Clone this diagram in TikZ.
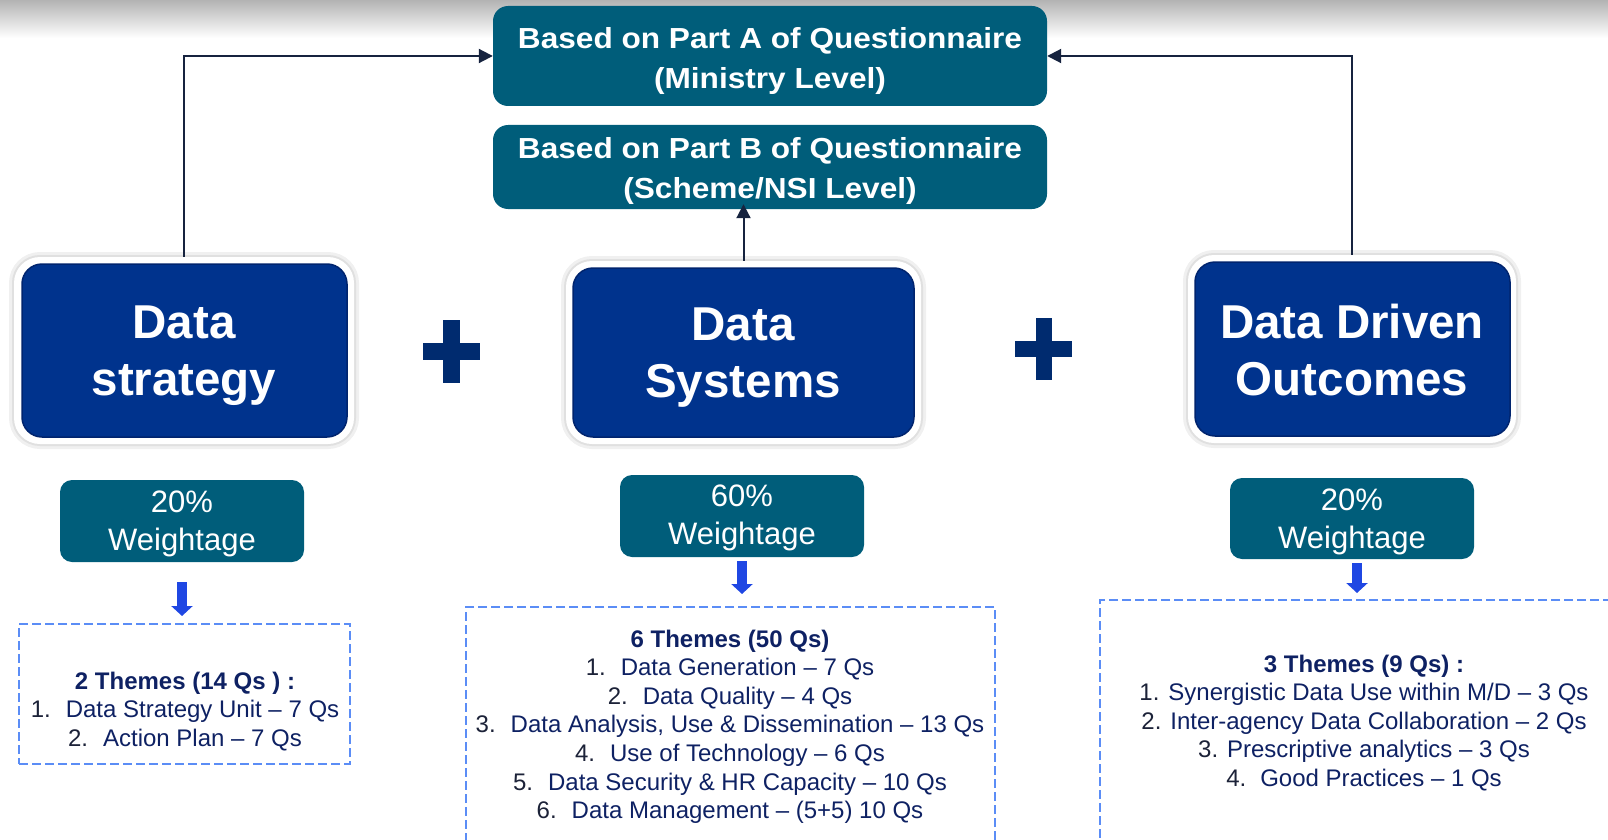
\documentclass[tikz,border=0pt]{standalone}
\usepackage{fontspec}
\setmainfont{Liberation Sans}
\newfontfamily\widefont[FakeStretch=1.09]{Liberation Sans}
\usetikzlibrary{arrows.meta}
\definecolor{tealbox}{HTML}{005D7A}
\definecolor{bigblue}{HTML}{00338D}
\definecolor{bigedge}{HTML}{00246E}
\definecolor{plusc}{HTML}{002B6F}
\definecolor{connc}{HTML}{16233F}
\definecolor{arrowblue}{HTML}{1F47E3}
\definecolor{dashc}{HTML}{5B8DF6}
\definecolor{txtc}{HTML}{0E2163}
\definecolor{numc}{HTML}{1C2238}
\newcommand\itemnum[2][35pt]{\makebox[#1][l]{\textcolor{numc}{#2.}}}
\begin{document}
\begin{tikzpicture}[x=1pt, y=-1pt,
  frame/.style={fill=white, rounded corners=26pt, inner sep=0pt,
    preaction={draw=black!6, line width=10pt},
    preaction={draw=black!12, line width=4pt}},
  bigbox/.style={fill=bigblue, draw=bigedge, line width=1.5pt, rounded corners=20pt, inner sep=0pt},
  bigtxt/.style={text=white, font=\bfseries\fontsize{47.5}{56.5}\selectfont, align=center, anchor=north, inner sep=0pt},
  qbox/.style={fill=tealbox, rounded corners=15pt, inner sep=0pt},
  qtxt/.style={text=white, font=\widefont\bfseries\fontsize{29}{40}\selectfont, align=center, anchor=north, inner sep=0pt},
  wbox/.style={fill=tealbox, rounded corners=12pt, inner sep=0pt},
  wtxt/.style={text=white, font=\fontsize{31}{38}\selectfont, align=center, anchor=north, inner sep=0pt},
  tbox/.style={draw=dashc, line width=2pt, dash pattern=on 9pt off 4pt, inner sep=0pt},
  ttxt/.style={text=txtc, font=\fontsize{24}{28.6}\selectfont, align=center, anchor=north, inner sep=0pt},
  conn/.style={draw=connc, line width=2pt, -{Triangle[width=14pt,length=14pt]}},
  barrow/.style={draw=arrowblue, line width=10pt, -{Triangle[width=21pt,length=10pt]}},
  plusbar/.style={fill=plusc}]
\useasboundingbox (0,0) rectangle (1608,840);
\clip (0,0) rectangle (1608,840);
\shade[top color=black!30, bottom color=white] (0,0) rectangle (1608,38);

% questionnaire boxes
\node[qbox, minimum width=554pt, minimum height=100pt] (pa) at (770,56) {};
\node[qtxt] (pat) at (770,26.9) {Based on Part A of Questionnaire\\(Ministry Level)};
\node[qbox, minimum width=554pt, minimum height=84pt] (pb) at (770,167) {};
\node[qtxt] (pbt) at (770,136.9) {Based on Part B of Questionnaire\\(Scheme/NSI Level)};

% big boxes
\node[frame, minimum width=340pt, minimum height=187pt] (ds) at (184,350.5) {};
\node[bigbox, minimum width=325pt, minimum height=173pt] (dsi) at (184.5,350.5) {};
\node[bigtxt] (dst) at (184,306) {Data\\strategy};

\node[frame, minimum width=355pt, minimum height=183pt] (dsys) at (743.5,352.5) {};
\node[bigbox, minimum width=341pt, minimum height=169pt] (dsysi) at (743.5,352.5) {};
\node[bigtxt] (dsyst) at (743,308) {Data\\Systems};

\node[frame, minimum width=328pt, minimum height=188pt] (ddo) at (1352,349) {};
\node[bigbox, minimum width=315pt, minimum height=174pt] (ddoi) at (1352.5,349) {};
\node[bigtxt] (ddot) at (1352,304) {Data Driven\\Outcomes};

% plus signs
\fill[plusbar] (423,343) rectangle (480,360);
\fill[plusbar] (443,320) rectangle (460,383);
\fill[plusbar] (1015,341) rectangle (1072,357);
\fill[plusbar] (1036,318) rectangle (1052,380);

% connectors
\draw[conn] (ds.north) |- (pa.west);
\draw[conn] (ddo.north) |- (pa.east);
\draw[conn, shorten >=-5pt] (dsys.north) -- (dsys.north |- pb.south);

% weightage boxes
\node[wbox, minimum width=244pt, minimum height=82pt] (w1) at (182,521) {};
\node[wtxt] (w1t) at (182,490.4) {20\%\\Weightage};
\node[wbox, minimum width=244pt, minimum height=82pt] (w2) at (742,516) {};
\node[wtxt] (w2t) at (742,484.4) {60\%\\Weightage};
\node[wbox, minimum width=244pt, minimum height=81pt] (w3) at (1352,518.5) {};
\node[wtxt] (w3t) at (1352,488.4) {20\%\\Weightage};

% theme boxes
\node[tbox, minimum width=331pt, minimum height=140pt] (t1) at (184.5,694) {};
\node[ttxt] (t1t) at (185,671.5) {{\bfseries 2 Themes (14 Qs ) :}\\
  \itemnum{1}Data Strategy Unit – 7 Qs\\
  \itemnum{2}Action Plan – 7 Qs};
\node[tbox, minimum width=529pt, minimum height=263pt] (t2) at (730.5,738.5) {};
\node[ttxt] (t2t) at (730,629.5) {{\bfseries 6 Themes (50 Qs)}\\
  \itemnum{1}Data Generation – 7 Qs\\
  \itemnum{2}Data Quality – 4 Qs\\
  \itemnum{3}Data Analysis, Use \& Dissemination – 13 Qs\\
  \itemnum{4}Use of Technology – 6 Qs\\
  \itemnum{5}Data Security \& HR Capacity – 10 Qs\\
  \itemnum{6}Data Management – (5+5) 10 Qs};
\node[tbox, minimum width=550pt, minimum height=270pt] (t3) at (1375,735) {};
\node[ttxt] (t3t) at (1364,654.5) {{\bfseries 3 Themes (9 Qs) :}\\
  \textcolor{numc}{1.} Synergistic Data Use within M/D – 3 Qs\\
  \textcolor{numc}{2.} Inter-agency Data Collaboration – 2 Qs\\
  \textcolor{numc}{3.} Prescriptive analytics – 3 Qs\\
  \itemnum[34pt]{4}Good Practices – 1 Qs};

% blue arrows
\draw[barrow, shorten <=20pt, shorten >=7pt] (w1.south) -- (w1.south |- t1.north);
\draw[barrow, shorten <=4pt, shorten >=12pt] (w2.south) -- (w2.south |- t2.north);
\draw[barrow, shorten <=4pt, shorten >=6pt] ([xshift=5pt]w3.south) -- ([xshift=5pt]w3.south |- t3.north);
\end{tikzpicture}
\end{document}
